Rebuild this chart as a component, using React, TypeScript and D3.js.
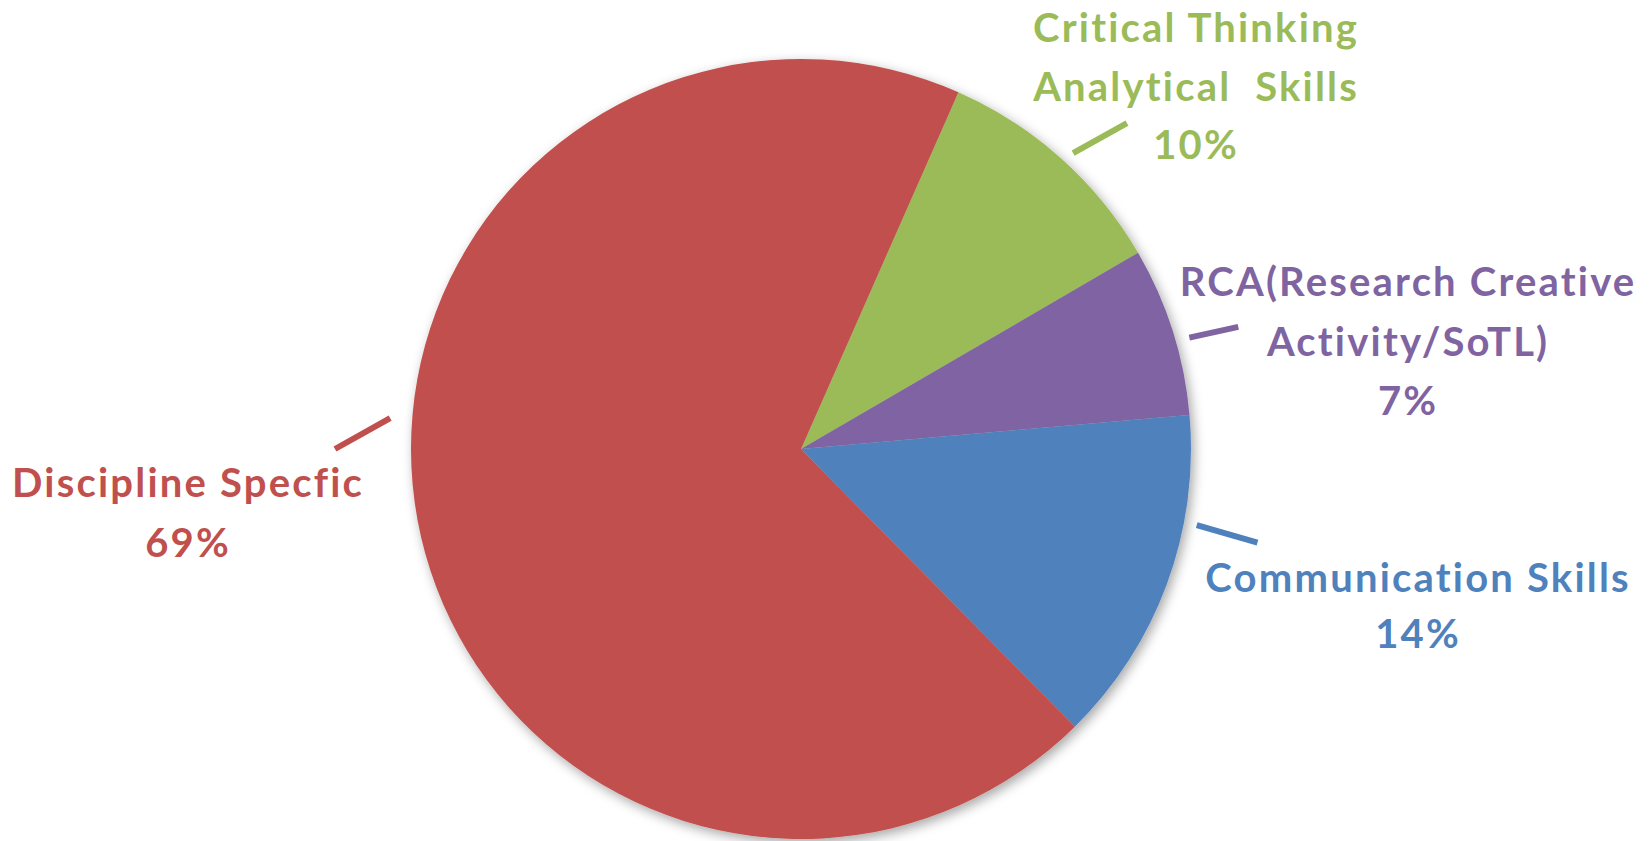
import React, {useEffect, useRef} from 'react';
import * as d3 from 'd3';

// slice order follows the chart clockwise, starting at the green wedge
const categories = [
    "Critical Thinking Analytical Skills",
    "RCA(Research Creative Activity/SoTL)",
    "Communication Skills",
    "Discipline Specfic",
];
const shares = [10, 7, 14, 69];
const percentLabels = ["10%", "7%", "14%", "69%"];
const labelLines = [
    ["Critical Thinking", "Analytical \u00A0Skills"],
    ["RCA(Research Creative", "Activity/SoTL)"],
    ["Communication Skills"],
    ["Discipline Specfic"],
];
const colours = ["#9BBB59", "#8064A2", "#4F81BD", "#C0504D"];

// label placement (text centre, first baseline, line height) and leader (polar from pie centre)
const labelLayout = [
    {x: 1195, y: 42, lh: 58.5, leader: [[42.6, 402], [45, 461]]},
    {x: 1407, y: 296, lh: 59.5, leader: [[74, 404], [74.4, 454]]},
    {x: 1417, y: 592, lh: 56, leader: [[100.9, 403], [101.6, 466]]},
    {x: 187, y: 497, lh: 60, leader: [[274.3, 412], [270, 466]]},
];

const width = 1652;
const height = 841;
const cx = 801;
const cy = 449;
const radius = 390;
const startDeg = 23.8;
const letterGap = 2.2;

const App = () => {
    const ref = useRef<SVGSVGElement>(null);

    useEffect(() => {
        const svg = d3.select(ref.current);
        svg.selectAll("*").remove();

        const defs = svg.append("defs");
        const filter = defs.append("filter")
            .attr("id", "pie-shadow")
            .attr("x", "-10%").attr("y", "-10%")
            .attr("width", "120%").attr("height", "120%");
        filter.append("feDropShadow")
            .attr("dx", 3).attr("dy", 4)
            .attr("stdDeviation", 6)
            .attr("flood-color", "#000")
            .attr("flood-opacity", 0.35);

        const rad = (d: number) => d * Math.PI / 180;

        const pie = d3.pie<number>()
            .sort(null)
            .startAngle(rad(startDeg))
            .endAngle(rad(startDeg) + 2 * Math.PI);
        const arcs = pie(shares);

        const arc = d3.arc<d3.PieArcDatum<number>>()
            .innerRadius(0)
            .outerRadius(radius);

        const g = svg.append("g").attr("transform", `translate(${cx},${cy})`);

        g.append("g")
            .attr("filter", "url(#pie-shadow)")
            .selectAll("path")
            .data(arcs)
            .join("path")
            .attr("d", arc)
            .attr("fill", (d, i) => colours[i]);

        // leader lines
        g.append("g")
            .selectAll("line")
            .data(arcs)
            .join("line")
            .each(function(d, i) {
                const [[a0, r0], [a1, r1]] = labelLayout[i].leader;
                const p0 = d3.pointRadial(rad(a0), r0);
                const p1 = d3.pointRadial(rad(a1), r1);
                d3.select(this)
                    .attr("x1", p0[0]).attr("y1", p0[1])
                    .attr("x2", p1[0]).attr("y2", p1[1]);
            })
            .attr("stroke", (d, i) => colours[i])
            .attr("stroke-width", 6);

        // data labels
        const labels = svg.append("g")
            .style("font-family", "Lato, 'Open Sans', sans-serif")
            .style("font-weight", "bold")
            .style("font-size", "40px")
            .style("letter-spacing", `${letterGap}px`)
            .attr("text-anchor", "middle")
            .selectAll("text")
            .data(categories)
            .join("text")
            .attr("fill", (d, i) => colours[i])
            .attr("x", (d, i) => labelLayout[i].x)
            .attr("y", (d, i) => labelLayout[i].y);

        labels.each(function(d, i) {
            const t = d3.select(this);
            const lines = [...labelLines[i], percentLabels[i]];
            lines.forEach((line, k) => {
                t.append("tspan")
                    .attr("x", labelLayout[i].x + letterGap / 2)
                    .attr("y", labelLayout[i].y + k * labelLayout[i].lh)
                    .text(line);
            });
        });
    }, []);

    return (
        <svg
            ref={ref}
            width={width}
            height={height}
            style={{position: "absolute", left: 0, top: 0, display: "block", background: "#fff"}}
        />
    );
};

export default App;
